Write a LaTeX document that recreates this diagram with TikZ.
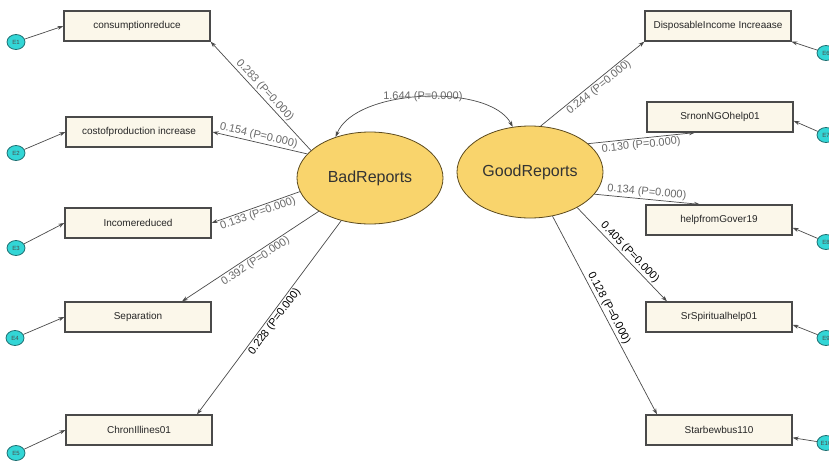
\documentclass[tikz,border=0pt]{standalone}
\usepackage{fontspec}
\setmainfont{Liberation Sans}
\usetikzlibrary{shapes.geometric,arrows.meta}
\definecolor{boxfill}{HTML}{FBF7EA}
\definecolor{boxline}{HTML}{4A4A4A}
\definecolor{latfill}{HTML}{F9D46C}
\definecolor{latline}{HTML}{5C4A1E}
\definecolor{errfill}{HTML}{33D6D6}
\definecolor{errline}{HTML}{1E6E70}
\definecolor{lblgray}{HTML}{6A6A6A}
\definecolor{conncol}{HTML}{4A4A4A}
\begin{document}
\begin{tikzpicture}[x=1pt,y=-1pt,
  obs/.style={draw=boxline, line width=1.2pt, fill=boxfill, minimum width=146pt, minimum height=30pt, inner sep=0pt, font=\fontsize{10}{12}\selectfont, text=black!85},
  lat/.style={ellipse, draw=latline, line width=0.8pt, fill=latfill, minimum width=146pt, minimum height=92pt, inner sep=0pt, font=\fontsize{16}{18}\selectfont, text=black!80},
  err/.style={ellipse, draw=errline, line width=0.8pt, fill=errfill, minimum width=18pt, minimum height=15pt, inner sep=0pt, font=\fontsize{6}{7}\selectfont, text=black!70},
  tipend/.style={draw=conncol, line width=0.7pt, -{Stealth[length=6pt,width=4pt]}},
  tipstart/.style={draw=conncol, line width=0.7pt, {Stealth[length=6pt,width=4pt]}-},
  tipboth/.style={draw=conncol, line width=0.7pt, {Stealth[length=6pt,width=4pt]}-{Stealth[length=6pt,width=4pt]}},
  lbl/.style={sloped, font=\fontsize{11}{13}\selectfont, text=lblgray, inner sep=1.5pt},
  lblk/.style={lbl, text=black},
]
\useasboundingbox (0,0) rectangle (829,461);
\fill[white] (0,0) rectangle (829,461);

% latent variables
\node[lat] (bad) at (370,178) {BadReports};
\node[lat] (good) at (530,172) {GoodReports};

% left observed
\node[obs] (cons) at (137,26) {consumptionreduce};
\node[obs] (cost) at (139,132) {costofproduction increase};
\node[obs] (inc) at (138,223) {Incomereduced};
\node[obs] (sep) at (138,317) {Separation};
\node[obs] (chr) at (139,430) {ChronIllines01};

% right observed
\node[obs] (disp) at (718,26) {DisposableIncome Increaase};
\node[obs] (ngo) at (720,117) {SrnonNGOhelp01};
\node[obs] (gov) at (719,220) {helpfromGover19};
\node[obs] (spir) at (719,317) {SrSpiritualhelp01};
\node[obs] (star) at (719,430) {Starbewbus110};

% error terms
\node[err] (e1) at (16,42) {E1};
\node[err] (e2) at (16,153) {E2};
\node[err] (e3) at (16,248) {E3};
\node[err] (e4) at (15,338) {E4};
\node[err] (e5) at (16,453) {E5};
\node[err] (e6) at (826,53) {E6};
\node[err] (e7) at (826,135) {E7};
\node[err] (e8) at (826,242) {E8};
\node[err] (e9) at (826,338) {E9};
\node[err] (e10) at (826,443) {E10};

\draw[tipend] (e1) -- (cons.west);
\draw[tipend] (e2) -- (cost.west);
\draw[tipend] (e3) -- (inc.west);
\draw[tipend] (e4) -- (sep.west);
\draw[tipend] (e5) -- (chr.west);
\draw[tipend] (e6) -- (disp.-12);
\draw[tipend] (e7) -- (ngo.-3);
\draw[tipend] (e8) -- (gov.-6);
\draw[tipend] (e9) -- (spir.-6);
\draw[tipend] (e10) -- (star.-6);

% BadReports loadings
\draw[tipstart] (cons.south east) -- node[lbl, pos=.49, above] {0.283 (P=0.000)} (bad.155);
\draw[tipstart] (cost.east) -- node[lbl, pos=.47, above] {0.154 (P=0.000)} (bad.159);
\draw[tipstart] (inc.east) -- node[lbl, pos=.5, below] {0.133 (P=0.000)} (bad.191);
\draw[tipstart] ([xshift=44pt]sep.north) -- node[lbl, pos=.51, below] {0.392 (P=0.000)} (bad.213);
\draw[tipstart] ([xshift=58pt]chr.north) -- node[lblk, pos=.5, below] {0.228 (P=0.000)} (bad.236);

% GoodReports loadings
\draw[tipend] (good.77) -- node[lbl, pos=.52, below] {0.244 (P=0.000)} (disp.south west);
\draw[tipend] (good.26) -- node[lbl, pos=.49, below] {0.130 (P=0.000)} ([xshift=-25pt]ngo.south);
\draw[tipend] (good.-19) -- node[lbl, pos=.49, above] {0.134 (P=0.000)} ([xshift=-19pt]gov.north);
\draw[tipend] (good.-37) -- node[lblk, pos=.53, above] {0.405 (P=0.000)} ([xshift=-52pt]spir.north);
\draw[tipend] (good.-63) -- node[lblk, pos=.48, above] {0.128 (P=0.000)} ([xshift=-62pt]star.north);

% covariance
\draw[tipboth] (bad.130) .. controls (355,88) and (490,83) .. node[pos=.5, font=\fontsize{11}{13}\selectfont, text=lblgray] {1.644 (P=0.000)} (good.111);
\end{tikzpicture}
\end{document}
